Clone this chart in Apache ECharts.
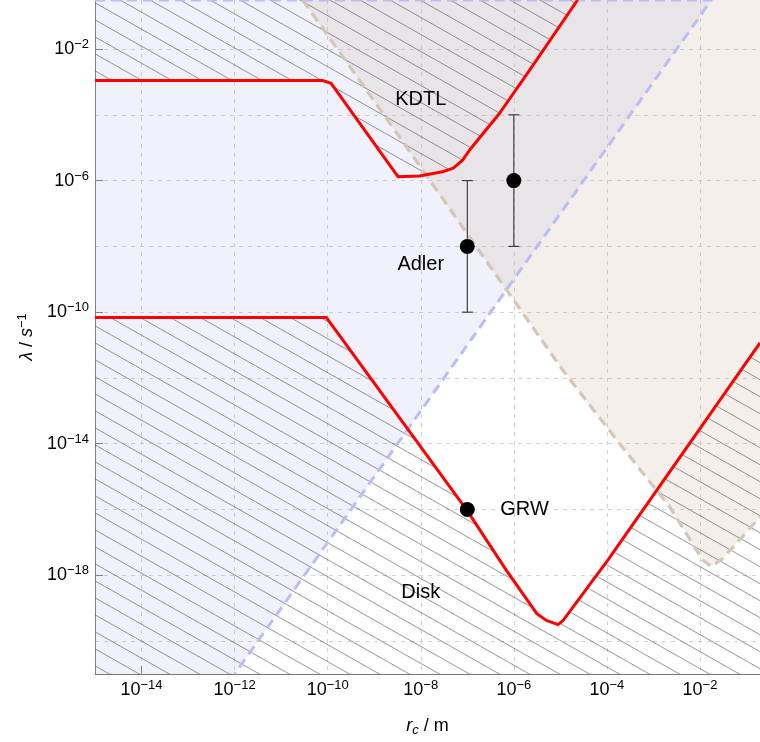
<!DOCTYPE html>
<html><head><meta charset="utf-8">
<script src="https://cdn.jsdelivr.net/npm/echarts@6/dist/echarts.min.js"></script>
<style>html,body{margin:0;padding:0;background:#fff}#c{width:760px;height:742px}</style>
</head><body><div id="c"></div>
<script>
// All values are log10 exponents: X = log10(r_c / m), Y = log10(lambda / s^-1)
const xRange = [-15, -0.71];
const yRange = [-21, -0.51];
const xTickLabels = [-14, -12, -10, -8, -6, -4, -2];
const xTickMarks = [-14];
const xGridLines = [-14, -12, -10, -8, -6, -4, -2];
const yTickLabels = [-18, -14, -10, -6, -2];
const yGridLines = [-20, -18, -16, -14, -12, -10, -8, -6, -4, -2];

// upper red curve (KDTL bound)
const kdtlCurve = [[-15, -2.96], [-10.1, -2.96], [-9.93, -3.04], [-8.49, -5.88], [-8.03, -5.86], [-7.53, -5.73],
  [-7.3, -5.62], [-7.1, -5.38], [-6.95, -5.07], [-6.31, -3.96], [-5.66, -2.64], [-4.63, -0.51]];
// lower red curve (Disk / GRW bound)
const lowerCurve = [[-15, -10.16], [-10.03, -10.16], [-7.01, -16.02], [-6.16, -17.85], [-5.51, -19.16], [-5.30, -19.37],
  [-5.05, -19.50], [-4.94, -19.37], [-3.98, -17.54], [-1.12, -11.76], [-0.71, -10.93]];
// blue (lavender) region and its dashed edge
const blueRegion = [[-15, -21], [-12, -21], [-1.755, -0.51], [-15, -0.51]];
const blueEdge = [[-15, -0.51], [-1.755, -0.51], [-12, -21]];
// tan region edge
const tanEdge = [[-10.54, -0.51], [-8.89, -3.80], [-4.95, -11.76], [-3.73, -13.99], [-2.65, -15.92], [-1.94, -17.54],
  [-1.755, -17.73], [-1.51, -17.49], [-0.71, -16.23]];
const tanCorner = [[-0.71, -0.51]];
// Adler points with error bars
const adlerX = [-7, -6];
const adlerY = [-8, -6];
const adlerLow = [-10, -8];
const adlerHigh = [-6, -4];
// GRW point
const grwX = [-7];
const grwY = [-16];
// region labels
const labelNames = ['KDTL', 'Adler', 'GRW', 'Disk'];
const labelX = [-8, -8, -5.77, -8];
const labelY = [-3.53, -8.55, -16.01, -18.52];

const FONT = 'Liberation Sans, Arial, sans-serif';

// hatch pattern tile
const TW = 30, TH = 17;
const hatch = document.createElement('canvas');
hatch.width = TW; hatch.height = TH;
(function () {
  const g = hatch.getContext('2d');
  g.strokeStyle = 'rgba(80,80,80,0.6)';
  g.lineWidth = 1;
  for (const dy of [-TH, 0, TH]) {
    g.beginPath(); g.moveTo(0, dy); g.lineTo(TW, TH + dy); g.stroke();
  }
})();

function supLabel(v) {
  return '{b|10}{s|' + (v < 0 ? '\u2212' : '') + Math.abs(v) + '}';
}
const tickRich = {
  b: { fontSize: 18, fontFamily: FONT, color: '#000', lineHeight: 22 },
  s: { fontSize: 13, fontFamily: FONT, color: '#000', lineHeight: 13, verticalAlign: 'top' }
};

function polygonSeries(points, fill, z) {
  return {
    type: 'custom', coordinateSystem: 'cartesian2d', xAxisIndex: 0, yAxisIndex: 0, z: z, silent: true,
    data: [points[0]],
    renderItem: function (params, api) {
      return { type: 'polygon', shape: { points: points.map(p => api.coord(p)) }, style: { fill: fill, stroke: null } };
    }
  };
}
function lineSeries(points, color, width, type, z) {
  return {
    type: 'line', data: points, showSymbol: false, symbol: 'none', z: z, silent: true, animation: false,
    lineStyle: { color: color, width: width, type: type, join: 'round' }
  };
}

const option = {
  animation: false,
  grid: { left: 95, right: 0, top: 0, bottom: 68 },
  xAxis: [
    {
      type: 'value', min: xRange[0], max: xRange[1], position: 'bottom',
      axisLine: { show: true, lineStyle: { color: '#777', width: 1 } },
      axisTick: { show: true, inside: true, length: 8, customValues: xTickMarks, lineStyle: { color: '#777' } },
      axisLabel: { customValues: xTickLabels, formatter: supLabel, rich: tickRich, margin: 5 },
      splitLine: { show: false },
      name: '{i|r}{sub|c}{n| / m}', nameLocation: 'middle', nameGap: 41,
      nameTextStyle: {
        rich: {
          i: { fontSize: 18, fontFamily: FONT, fontStyle: 'italic', color: '#000', lineHeight: 22 },
          sub: { fontSize: 13, fontFamily: FONT, fontStyle: 'italic', color: '#000', lineHeight: 13, verticalAlign: 'bottom' },
          n: { fontSize: 18, fontFamily: FONT, color: '#000', lineHeight: 22 }
        }
      }
    },
    {
      type: 'value', min: xRange[0], max: xRange[1], position: 'top',
      axisLine: { show: false }, axisTick: { show: false, customValues: xGridLines }, axisLabel: { show: false },
      splitLine: { show: true, lineStyle: { color: '#d2d2d2', type: [4, 5], width: 1 } }
    }
  ],
  yAxis: [
    {
      type: 'value', min: yRange[0], max: yRange[1], position: 'left',
      axisLine: { show: true, lineStyle: { color: '#777', width: 1 } },
      axisTick: { show: true, inside: true, length: 8, customValues: yTickLabels, lineStyle: { color: '#777' } },
      axisLabel: { customValues: yTickLabels, formatter: supLabel, rich: tickRich, margin: 6 },
      splitLine: { show: false },
      name: '{i|\u03bb}{n| / }{i|s}{s|\u22121}', nameLocation: 'middle', nameRotate: 90, nameGap: 57,
      nameTextStyle: {
        rich: {
          i: { fontSize: 18, fontFamily: FONT, fontStyle: 'italic', color: '#000', lineHeight: 22 },
          n: { fontSize: 18, fontFamily: FONT, color: '#000', lineHeight: 22 },
          s: { fontSize: 13, fontFamily: FONT, color: '#000', lineHeight: 13, verticalAlign: 'top' }
        }
      }
    },
    {
      type: 'value', min: yRange[0], max: yRange[1], position: 'right',
      axisLine: { show: false }, axisTick: { show: false, customValues: yGridLines }, axisLabel: { show: false },
      splitLine: { show: true, lineStyle: { color: '#d2d2d2', type: [4, 5], width: 1 } }
    }
  ],
  series: [
    polygonSeries(blueRegion, 'rgba(170,170,240,0.17)', 1),
    polygonSeries(tanEdge.concat(tanCorner), 'rgba(200,175,150,0.2)', 1),
    polygonSeries(kdtlCurve.concat([[xRange[0], yRange[1]]]), { image: hatch, repeat: 'repeat' }, 2),
    polygonSeries(lowerCurve.concat([[xRange[1], yRange[0]], [xRange[0], yRange[0]]]), { image: hatch, repeat: 'repeat' }, 2),
    lineSeries(blueEdge, 'rgb(186,189,246)', 3, [10, 6], 3),
    lineSeries(tanEdge, 'rgb(214,198,182)', 3.2, [10, 6], 3),
    lineSeries(kdtlCurve, '#ff0000', 3, 'solid', 5),
    lineSeries(lowerCurve, '#ff0000', 3, 'solid', 5),
    {
      type: 'custom', coordinateSystem: 'cartesian2d', z: 6, silent: true,
      data: adlerX.map((x, i) => [x, adlerLow[i], adlerHigh[i]]),
      renderItem: function (params, api) {
        const lo = api.coord([api.value(0), api.value(1)]);
        const hi = api.coord([api.value(0), api.value(2)]);
        const st = { stroke: '#333', lineWidth: 1.1 };
        return {
          type: 'group', children: [
            { type: 'line', shape: { x1: lo[0], y1: lo[1], x2: hi[0], y2: hi[1] }, style: st },
            { type: 'line', shape: { x1: lo[0] - 5.5, y1: lo[1], x2: lo[0] + 5.5, y2: lo[1] }, style: st },
            { type: 'line', shape: { x1: hi[0] - 5.5, y1: hi[1], x2: hi[0] + 5.5, y2: hi[1] }, style: st }
          ]
        };
      }
    },
    {
      type: 'scatter', z: 7, silent: true, symbolSize: 15, itemStyle: { color: '#000', opacity: 1 },
      data: adlerX.map((x, i) => [x, adlerY[i]]).concat(grwX.map((x, i) => [x, grwY[i]]))
    },
    {
      type: 'custom', coordinateSystem: 'cartesian2d', z: 8, silent: true,
      data: labelNames.map((n, i) => [labelX[i], labelY[i], i]),
      renderItem: function (params, api) {
        const p = api.coord([api.value(0), api.value(1)]);
        return {
          type: 'text', x: p[0], y: p[1],
          style: { text: labelNames[api.value(2)], fontSize: 20, fontFamily: FONT, fill: '#000', align: 'center', verticalAlign: 'middle' }
        };
      }
    }
  ]
};
const chart = echarts.init(document.getElementById('c'), null, { renderer: 'canvas' });
chart.setOption(option);
</script></body></html>
